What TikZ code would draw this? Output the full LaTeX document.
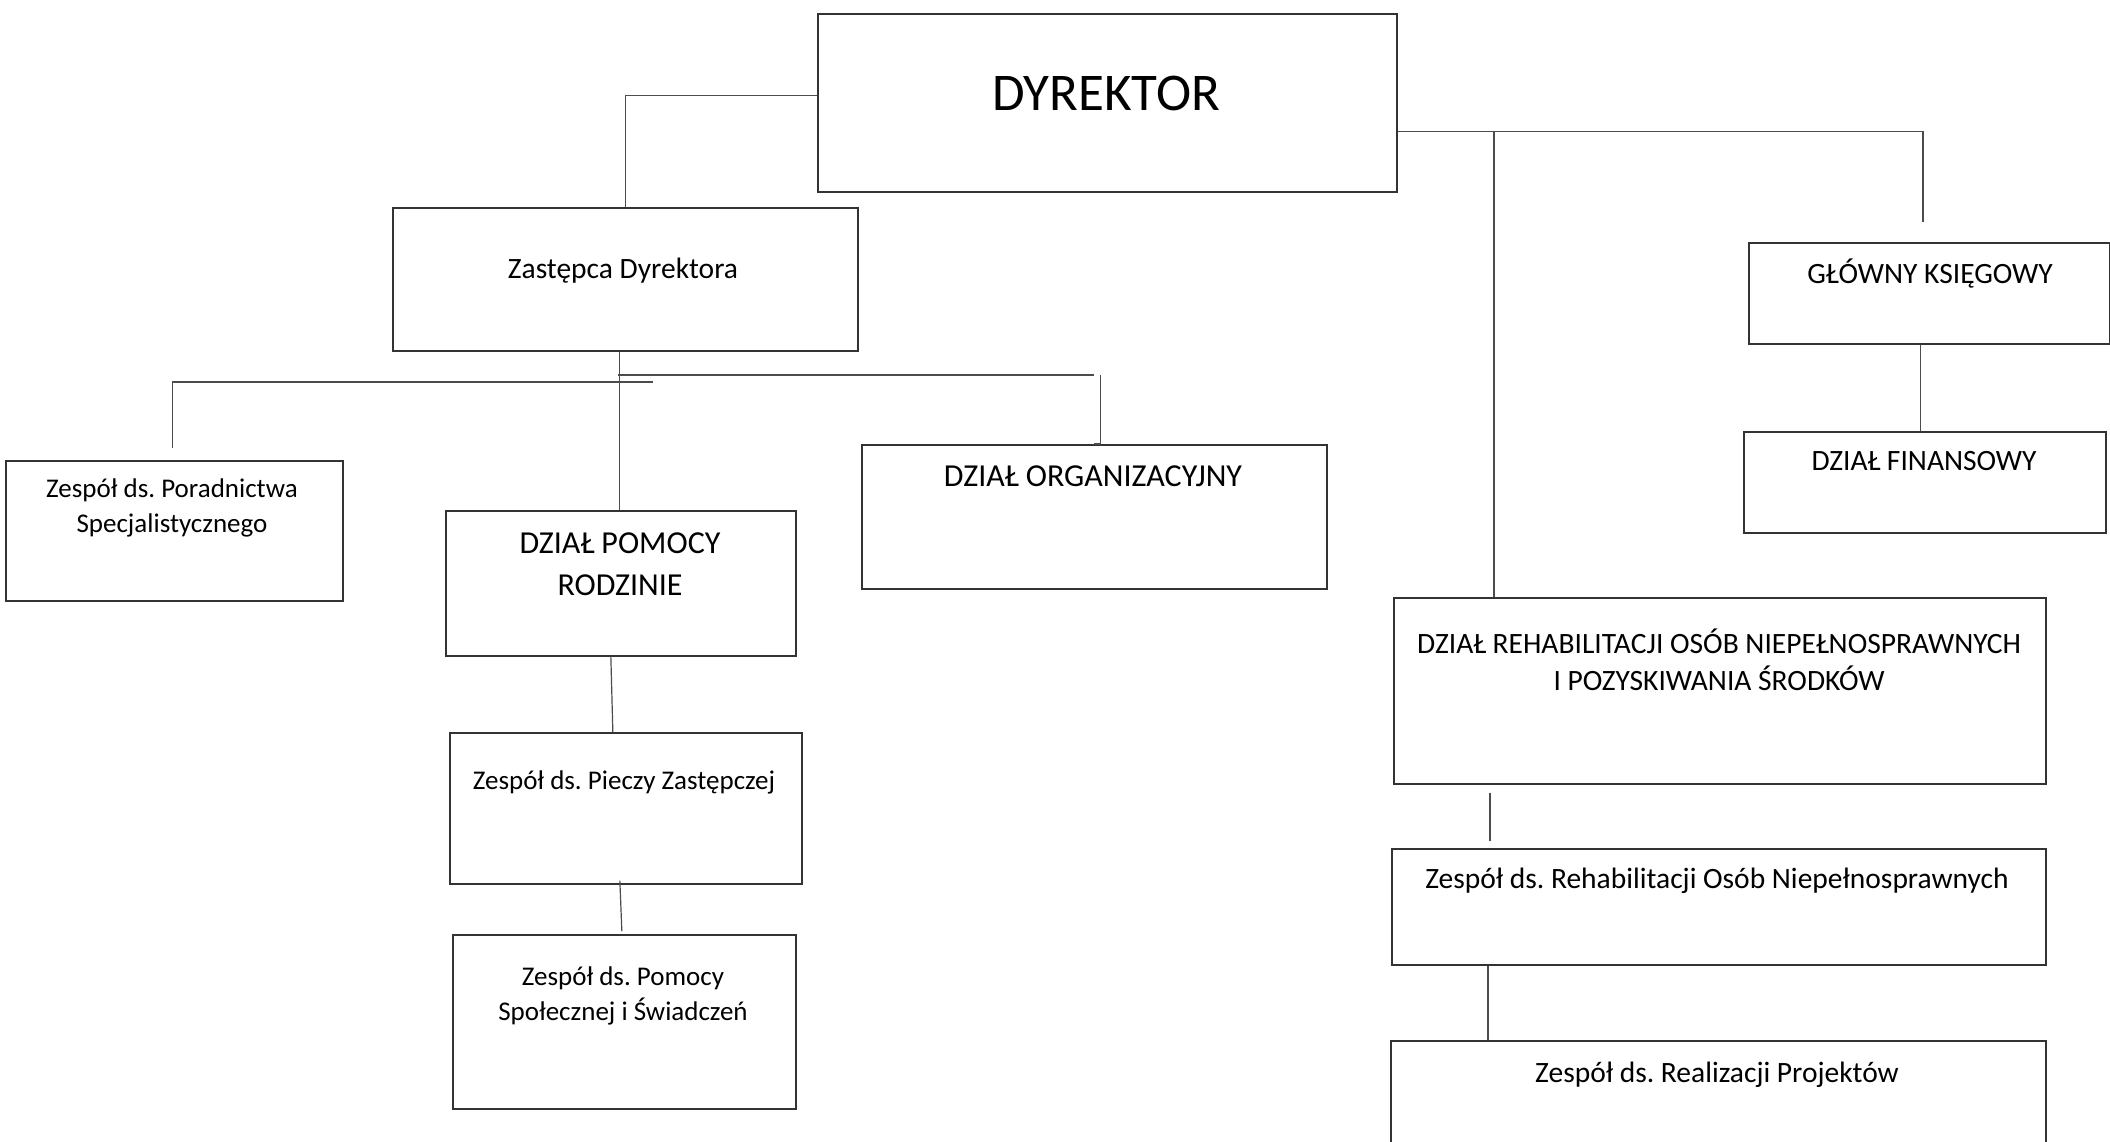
\documentclass[tikz,border=0pt]{standalone}
\usepackage{fontspec}
\setmainfont{Carlito}
\usetikzlibrary{calc}
\frenchspacing
\begin{document}
\begin{tikzpicture}[x=1pt,y=-1pt,
  box/.style={draw=black!80, line width=1.7pt, inner sep=0pt, anchor=north west},
  conn/.style={draw=black!70, line width=1.2pt},
  big/.style={anchor=base, inner sep=0pt, font=\fontsize{53}{60}\selectfont},
  lrg/.style={anchor=base, inner sep=0pt, font=\fontsize{32}{38}\selectfont},
  mid/.style={anchor=base, inner sep=0pt, font=\fontsize{29.5}{35}\selectfont},
  sml/.style={anchor=base, inner sep=0pt, font=\fontsize{27}{33}\selectfont}]
\useasboundingbox (0,0) rectangle (2110,1141);
\clip (0,0) rectangle (2110,1141);
\fill[white] (0,0) rectangle (2110,1141);
% boxes
\node[box, minimum width=579pt, minimum height=178pt] (dyr) at (817,13) {};
\node[box, minimum width=465pt, minimum height=143pt] (zas) at (392,207) {};
\node[box, minimum width=337pt, minimum height=140pt] (por) at (5,460) {};
\node[box, minimum width=350pt, minimum height=145pt] (pom) at (445,510) {};
\node[box, minimum width=465pt, minimum height=144pt] (org) at (861,444) {};
\node[box, minimum width=361pt, minimum height=101pt] (glo) at (1748,242) {};
\node[box, minimum width=362pt, minimum height=101pt] (fin) at (1743,431) {};
\node[box, minimum width=652pt, minimum height=186pt] (reh) at (1393,597) {};
\node[box, minimum width=654pt, minimum height=116pt] (zreh) at (1391,848) {};
\node[box, minimum width=655pt, minimum height=160pt] (real) at (1390,1040) {};
\node[box, minimum width=352pt, minimum height=151pt] (pie) at (449,732) {};
\node[box, minimum width=343pt, minimum height=174pt] (spo) at (452,934) {};
% texts
\node[big] (tdyr) at (1106,110) {DYREKTOR};
\node[mid] (tzas) at (623,278) {Zastępca Dyrektora};
\node[sml] (tpor1) at (172,497) {Zespół ds. Poradnictwa};
\node[sml] (tpor2) at (172,532) {Specjalistycznego};
\node[lrg] (tpom1) at (620,553) {DZIAŁ POMOCY};
\node[lrg] (tpom2) at (620,595) {RODZINIE};
\node[lrg] (torg) at (1093,486) {DZIAŁ ORGANIZACYJNY};
\node[mid] (tglo) at (1930,283) {GŁÓWNY KSIĘGOWY};
\node[mid] (tfin) at (1924,470) {DZIAŁ FINANSOWY};
\node[mid] (treh1) at (1719,653) {DZIAŁ REHABILITACJI OSÓB NIEPEŁNOSPRAWNYCH};
\node[mid] (treh2) at (1719,690) {I POZYSKIWANIA ŚRODKÓW};
\node[mid] (tzreh) at (1717,888) {Zespół ds. Rehabilitacji Osób Niepełnosprawnych};
\node[mid] (treal) at (1717,1082) {Zespół ds. Realizacji Projektów};
\node[sml] (tpie) at (624,789) {Zespół ds. Pieczy Zastępczej};
\node[sml] (tspo1) at (623,985) {Zespół ds. Pomocy};
\node[sml] (tspo2) at (623,1020) {Społecznej i Świadczeń};
% connectors
\coordinate (gtop) at (1923,222);
\coordinate (j1) at (1494,131);
\coordinate (hl) at (653,382);
\coordinate (hr) at (618,375);
\coordinate (zb) at ($(zas.south)+(-6,0)$);
\draw[conn] ($(dyr.north west)!0.46!(dyr.south west)$) -| (zas.north);
\draw[conn] ($(dyr.north east)!0.66!(dyr.south east)$) -| (gtop);
\draw[conn] (j1) -- (j1 |- reh.north);
\draw[conn] (zb) -- (zb |- pom.north);
\draw[conn] (hl) -| ($(por.north)+(-2,-12)$);
\draw[conn] (hr) -| (hr -| org.north) ++(6.5,0) |- (org.north);
\draw[conn] ($(pom.south)+(-10,0)$) -- ($(pie.north)+(-13,0)$);
\draw[conn] ($(pie.south)+(-6,-4)$) -- ($(spo.north)+(-2.5,-3)$);
\draw[conn] ($(glo.south)+(-8.5,0)$) -- ($(fin.north)+(-4,0)$);
\draw[conn] ($(reh.south west)+(97,8)$) -- ($(zreh.north west)+(99,-7)$);
\draw[conn] ($(zreh.south west)+(97,0)$) -- ($(real.north west)+(98,0)$);
\end{tikzpicture}
\end{document}
